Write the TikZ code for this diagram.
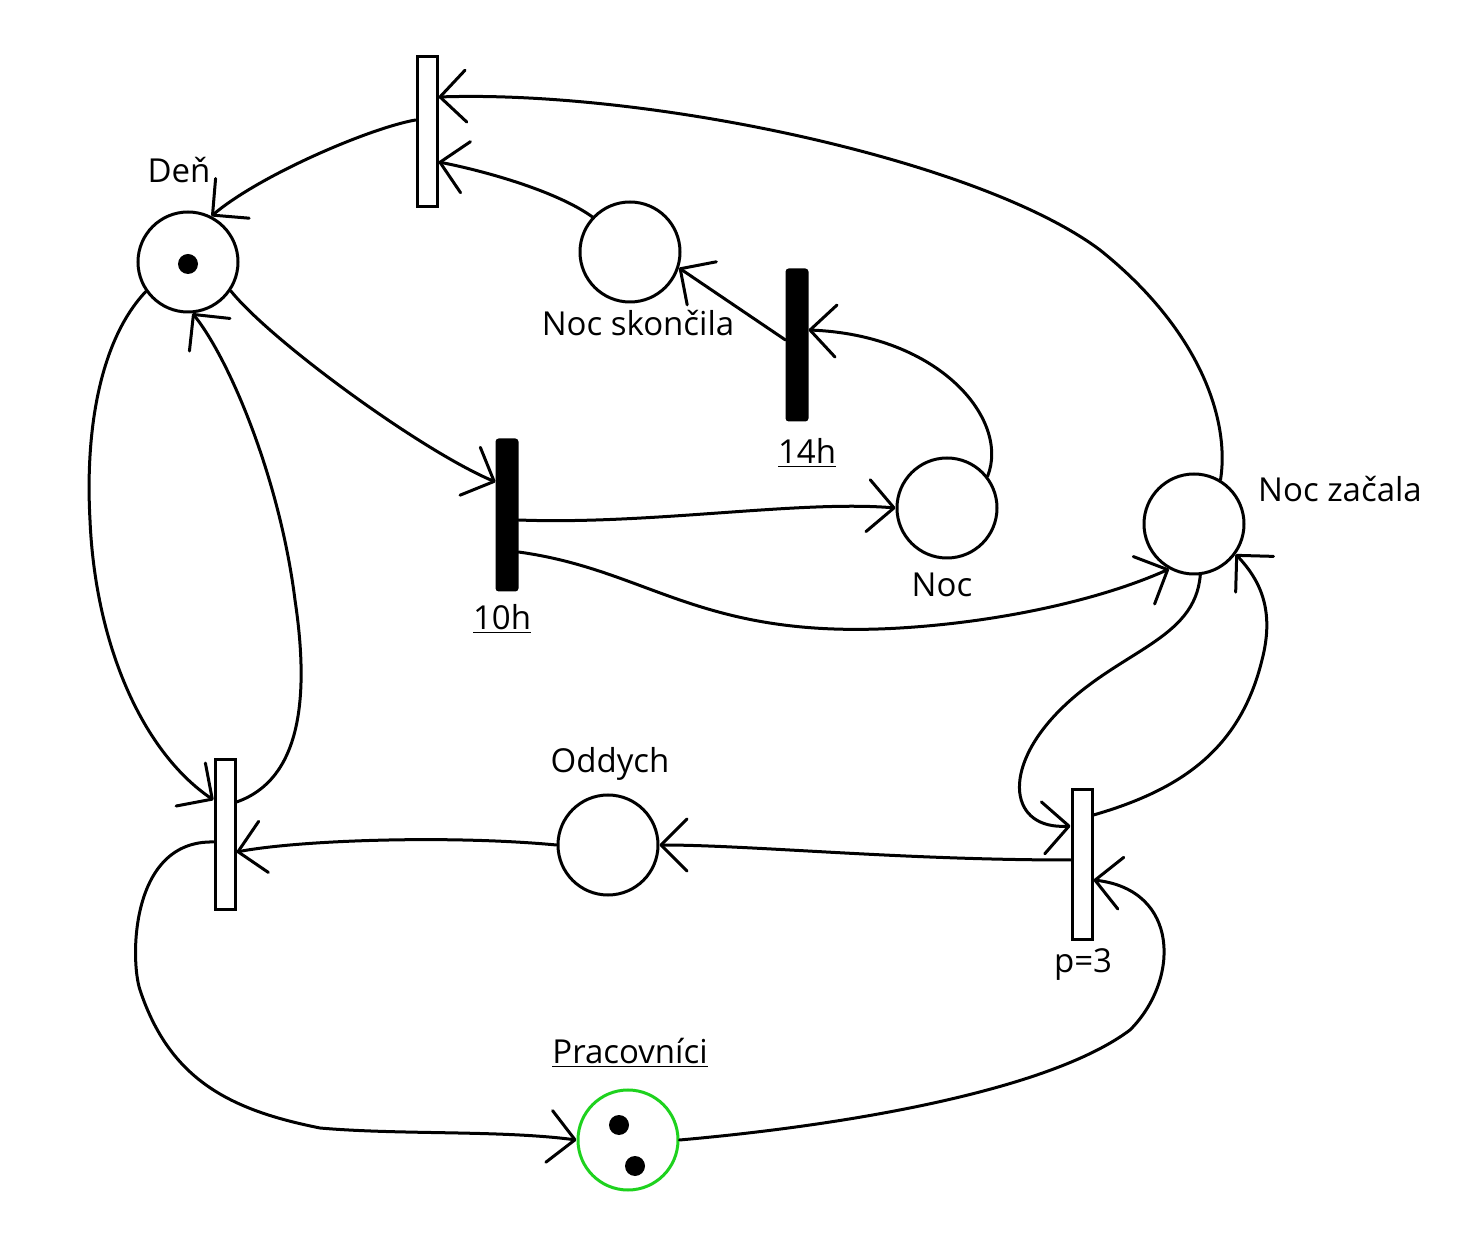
\documentclass[tikz,border=0pt]{standalone}
\usepackage{fontspec}
\setmainfont{Open Sans}
\usetikzlibrary{arrows.meta,calc}
\definecolor{tokgreen}{RGB}{30,210,30}
\tikzset{
  place/.style={circle,draw,line width=1.5pt,minimum size=50pt,inner sep=0pt},
  transw/.style={rectangle,draw,line width=1.5pt,fill=white,minimum width=10pt,minimum height=75pt,inner sep=0pt},
  transb/.style={rectangle,draw,line width=1.5pt,fill=black,minimum width=10pt,minimum height=75pt,inner sep=0pt,rounded corners=1pt},
  token/.style={circle,fill=black,minimum size=10pt,inner sep=0pt},
  lbl/.style={font=\fontsize{16.5}{19}\selectfont,inner sep=0pt},
  arc/.style={line width=1.5pt,line cap=round,-{Straight Barb[length=13pt,width=26pt,line width=1.5pt,round]}},
}
\begin{document}
\begin{tikzpicture}[x=0.5pt,y=-0.5pt]
\useasboundingbox (0,0) rectangle (1474,1240);
% places
\node[place] (den) at (188,262) {};
\node[token] (dentok) at (188,264) {};
\node[place] (nocs) at (630,252) {};
\node[place] (noc) at (947,508) {};
\node[place] (nocz) at (1194,524) {};
\node[place] (odd) at (608,845) {};
\node[place,draw=tokgreen] (prac) at (628,1140) {};
\node[token] (ptok1) at (619,1125) {};
\node[token] (ptok2) at (635,1166) {};
% transitions
\node[transw] (t1) at (427,132) {};
\node[transb] (t14) at (797,345) {};
\node[transb] (t10) at (507,515) {};
\node[transw] (t4) at (225,835) {};
\node[transw] (tp) at (1082,865) {};
% labels
\node[lbl] (lden) at (179,170) {Deň};
\node[lbl] (lnocs) at (638,323) {Noc skončila};
\node[lbl] (l14) at (807,453) {\underline{14h}};
\node[lbl] (l10) at (502,619) {\underline{10h}};
\node[lbl] (lnoc) at (942,585) {Noc};
\node[lbl] (lnocz) at (1340,489) {Noc začala};
\node[lbl] (lodd) at (610,764) {Oddych};
\node[lbl] (lp) at (1083,965) {p=3};
\node[lbl] (lprac) at (630,1053) {\underline{Pracovníci}};
% arcs
\draw[arc] ($(t1.west)+(0,-12)$) .. controls (370,128) and (260,175) .. (den.63);
\draw[arc] (nocz.59) .. controls (1230,420) and (1200,330) .. (1100,250)
   .. controls (980,160) and (650,90) .. ($(t1.east)+(0,-35)$);
\draw[arc] (nocs.137) .. controls (555,190) and (480,170) .. ($(t1.east)+(0,30)$);
\draw[arc] ($(t14.west)+(0,-5)$) -- (nocs.-18);
\draw[arc] (noc.38) .. controls (1010,420) and (940,335) .. ($(t14.east)+(0,-15)$);
\draw[arc] (den.-34) .. controls (270,340) and (420,450) .. ($(t10.west)+(0,-33)$);
\draw[arc] ($(t10.east)+(0,5)$) .. controls (650,525) and (800,500) .. (noc.180);
\draw[arc] ($(t10.east)+(0,37)$) .. controls (650,570) and (700,640) .. (900,628)
   .. controls (1000,622) and (1100,600) .. (nocz.-119);
\draw[arc] (den.-145) .. controls (100,340) and (85,430) .. (90,520)
   .. controls (95,640) and (140,750) .. ($(t4.west)+(0,-35)$);
\draw[arc] ($(t4.east)+(0,-33)$) .. controls (300,780) and (310,700) .. (295,600)
   .. controls (280,480) and (230,360) .. (den.-85);
\draw[arc] (odd.180) .. controls (450,835) and (300,840) .. ($(t4.east)+(0,17)$);
\draw[arc] ($(tp.west)+(0,-5)$) .. controls (900,860) and (750,845) .. (odd.0);
\draw[arc] (nocz.-83) .. controls (1195,640) and (1120,650) .. (1060,710)
   .. controls (1000,770) and (1010,830) .. ($(tp.west)+(0,-39)$);
\draw[arc] ($(tp.east)+(0,-50)$) .. controls (1180,790) and (1240,750) .. (1262,660)
   .. controls (1275,610) and (1260,580) .. (nocz.-36);
\draw[arc] ($(t4.west)+(0,7)$) .. controls (130,840) and (130,960) .. (140,990)
   .. controls (170,1080) and (230,1110) .. (320,1128)
   .. controls (400,1135) and (500,1130) .. (prac.180);
\draw[arc] (prac.0) .. controls (850,1125) and (1050,1090) .. (1130,1030)
   .. controls (1180,980) and (1180,890) .. ($(tp.east)+(0,15)$);
\end{tikzpicture}
\end{document}
